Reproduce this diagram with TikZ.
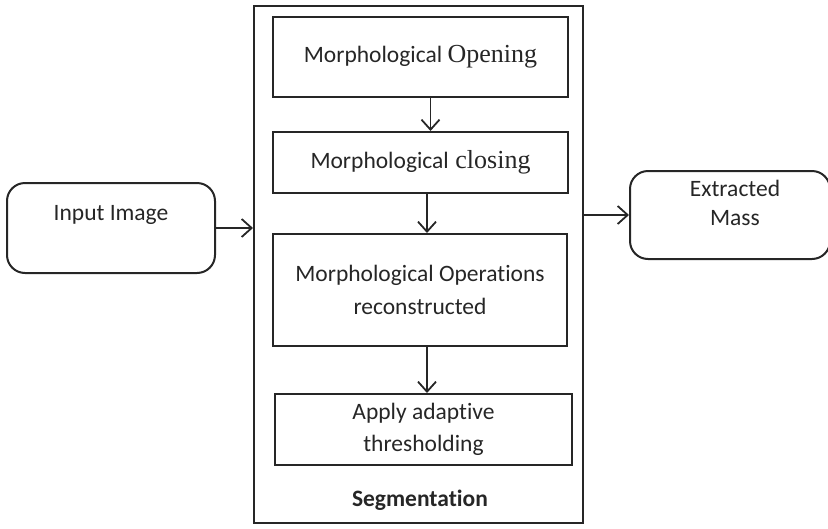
\documentclass[tikz,border=0pt]{standalone}
\usepackage{fontspec}
\setmainfont{Carlito}[Ligatures=NoCommon]
\newfontfamily\serifw{Liberation Serif}
\usetikzlibrary{arrows.meta}
\begin{document}
\begin{tikzpicture}[x=1pt,y=-1pt,
  box/.style={draw=black!85,line width=2pt,inner sep=0pt,align=center,text=black!85,font=\fontsize{23.5}{28}\selectfont},
  rbox/.style={box,rounded corners=18pt},
  txt/.style={inner sep=0pt,align=center,font=\fontsize{23.5}{29}\selectfont,text=black!85},
  arr/.style={line width=1.8pt,draw=black!85,-{Straight Barb[length=10pt,width=18pt,line width=1.8pt]}}]
\useasboundingbox (0,0) rectangle (828,528);
\node[box,minimum width=329,minimum height=517] (outer) at (418.5,264.5) {};
\node[box,minimum width=295,minimum height=80] (open) at (420.5,57) {Morphological {\serifw\fontsize{26}{28}\selectfont Opening}};
\node[box,minimum width=295,minimum height=61] (close) at (420.5,162.5) {Morphological{\serifw\fontsize{26}{28}\selectfont\ closing}};
\node[box,minimum width=294,minimum height=112,font=\fontsize{23.5}{33}\selectfont] (recon) at (420,290) {Morphological Operations\\reconstructed};
\node[box,minimum width=297,minimum height=71,font=\fontsize{23.5}{32}\selectfont] (apply) at (423.5,429.5) {Apply adaptive\\thresholding};
\node[txt,font=\bfseries\fontsize{23.5}{28}\selectfont] (seg) at (420,500) {Segmentation};
\node[rbox,minimum width=208,minimum height=90] (input) at (111,228) {};
\node[txt] (inputlbl) at (111,215) {Input Image};
\node[rbox,minimum width=200,minimum height=88] (mass) at (730,215) {};
\node[txt] (masslbl) at (735,203) {Extracted\\Mass};
\draw[arr] ([xshift=10pt]open.south) -- ([xshift=10pt]open.south |- close.north);
\draw[arr] ([xshift=6.5pt]close.south) -- ([xshift=6.5pt]close.south |- recon.north);
\draw[arr] ([xshift=7pt]recon.south) -- ([xshift=7pt]recon.south |- apply.north);
\draw[arr] (input.east) -- (input.east -| outer.west);
\draw[arr] (mass.west -| outer.east) -- (mass.west);
\end{tikzpicture}
\end{document}
